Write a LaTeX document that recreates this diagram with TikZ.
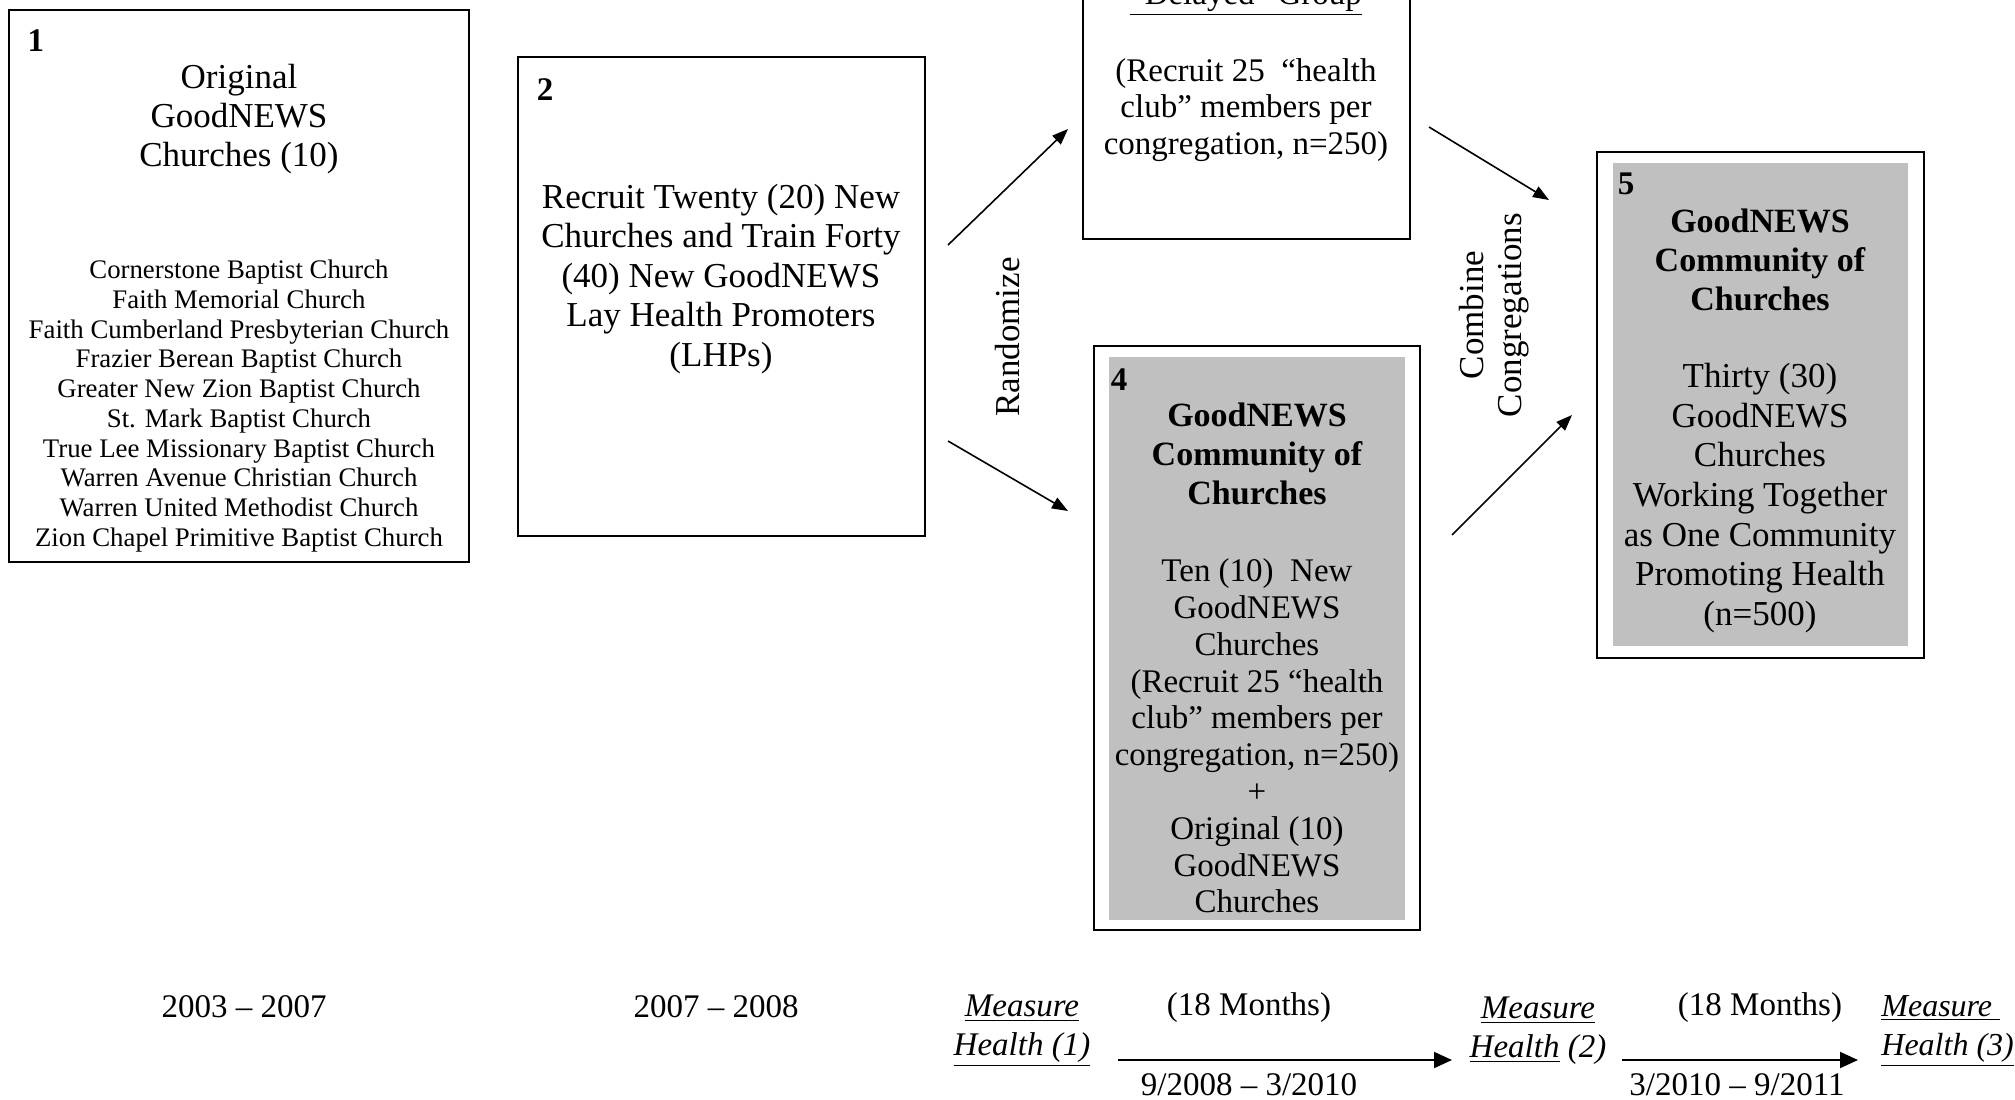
\documentclass[tikz,border=0pt]{standalone}
\usepackage{fontspec}
\setmainfont{Liberation Serif}
\usetikzlibrary{arrows.meta,fit}
\definecolor{boxgrey}{RGB}{192,192,192}
\begin{document}
\begin{tikzpicture}[x=0.5pt,y=-0.5pt,
  box/.style={draw=black,line width=1pt,inner sep=0pt,outer sep=0pt},
  dbox/.style={draw=black,line width=1.3pt,inner sep=0pt,outer sep=0pt},
  gbox/.style={fill=boxgrey,draw=none,inner sep=0pt,outer sep=0pt},
  big/.style={align=center,inner sep=0pt,font=\fontsize{17.5}{19.75}\selectfont},
  mid/.style={align=center,inner sep=0pt,font=\fontsize{16.5}{18.2}\selectfont},
  bhead/.style={align=center,inner sep=0pt,font=\fontsize{17}{19.3}\selectfont\bfseries},
  small/.style={align=center,inner sep=0pt,font=\fontsize{13.4}{14.85}\selectfont},
  num/.style={inner sep=0pt,anchor=center,font=\fontsize{16.5}{18}\selectfont\bfseries},
  tl/.style={align=center,inner sep=0pt,font=\fontsize{16.5}{19.5}\selectfont},
  tli/.style={align=center,inner sep=0pt,font=\fontsize{16.5}{19.5}\selectfont\itshape},
  arr/.style={line width=0.8pt,-{Triangle[length=8pt,width=6pt]}},
  tarr/.style={line width=1pt,-{Triangle[length=9pt,width=8pt]}}
]
\useasboundingbox (0,0) rectangle (2015,1099);
\clip (0,0) rectangle (2015,1099);

% Box 1
\node[box,fit={(9,10) (469,562)}] (b1) {};
\node[num] (n1) at (36,41) {1};
\node[big,font=\fontsize{17.5}{19.5}\selectfont] (t1) at (239,119) {Original\\GoodNEWS\\Churches (10)};
\node[small] (l1) at (239,406) {Cornerstone Baptist Church\\Faith Memorial Church\\Faith Cumberland Presbyterian Church\\Frazier Berean Baptist Church\\Greater New Zion Baptist Church\\St. Mark Baptist Church\\True Lee Missionary Baptist Church\\Warren Avenue Christian Church\\Warren United Methodist Church\\Zion Chapel Primitive Baptist Church};

% Box 2
\node[box,fit={(518,57) (925,536)}] (b2) {};
\node[num] (n2) at (545,90) {2};
\node[big] (t2) at (721,279) {Recruit Twenty (20) New\\Churches and Train Forty\\(40) New GoodNEWS\\Lay Health Promoters\\(LHPs)};

% Box 3
\node[box,fit={(1083,-80) (1410,239)}] (b3) {};
\node[mid] (h3) at (1246,-1) {\underline{``Delayed'' Group}};
\node[mid] (t3) at (1246,110) {(Recruit 25~ ``health\\club'' members per\\congregation, n=250)};

% Box 4
\node[dbox,fit={(1094,346) (1420,930)}] (b4) {};
\node[gbox,fit={(1109,357) (1405,920)}] (g4) {};
\node[num] (n4) at (1119,380) {4};
\node[bhead] (h4) at (1257,454) {GoodNEWS\\Community of\\Churches};
\node[mid,font=\fontsize{16.5}{18.4}\selectfont] (t4) at (1257,736) {Ten (10)~ New\\GoodNEWS\\Churches\\(Recruit 25 ``health\\club'' members per\\congregation, n=250)\\+\\Original (10)\\GoodNEWS\\Churches};

% Box 5
\node[dbox,fit={(1597,152) (1924,658)}] (b5) {};
\node[gbox,fit={(1613,163) (1908,646)}] (g5) {};
\node[num] (n5) at (1626,184) {5};
\node[bhead] (h5) at (1760,260) {GoodNEWS\\Community of\\Churches};
\node[big,font=\fontsize{17.5}{19.85}\selectfont] (t5) at (1760,498) {Thirty (30)\\GoodNEWS\\Churches\\Working Together\\as One Community\\Promoting Health\\(n=500)};

% Arrows
\coordinate (a1s) at (948,245); \coordinate (a1e) at (1068,129);
\coordinate (a2s) at (948,441); \coordinate (a2e) at (1068,511);
\coordinate (a3s) at (1429,127); \coordinate (a3e) at (1549,200);
\coordinate (a4s) at (1452,535); \coordinate (a4e) at (1572,415);
\draw[arr] (a1s) -- (a1e);
\draw[arr] (a2s) -- (a2e);
\draw[arr] (a3s) -- (a3e);
\draw[arr] (a4s) -- (a4e);

\node[big,rotate=90] (rand) at (1008,337) {Randomize};
\node[big,rotate=90,font=\fontsize{17.5}{19.25}\selectfont] (comb) at (1494,315) {Combine\\Congregations};

% Timeline
\node[tl] (y1) at (244,1007) {2003 -- 2007};
\node[tl] (y2) at (716,1007) {2007 -- 2008};
\node[tli] (m1) at (1022,1031) {\underline{Measure}\\\underline{Health (1)}};
\node[tl] (mo1) at (1249,1008) {(18 Months)};
\node[tl] (d1) at (1249,1085) {9/2008 -- 3/2010};
\node[tli] (m2) at (1538,1031) {\underline{Measure}\\\underline{Health} (2)};
\node[tl] (mo2) at (1760,1008) {(18 Months)};
\node[tl] (d2) at (1737,1085) {3/2010 -- 9/2011};
\node[tli,align=left,anchor=west,font=\fontsize{16}{19.5}\selectfont\itshape] (m3) at (1881,1031) {\underline{Measure\ }\\\underline{Health (3)}};

\coordinate (t1s) at (1118,1060); \coordinate (t1e) at (1452,1060);
\coordinate (t2s) at (1622,1060); \coordinate (t2e) at (1858,1060);
\draw[tarr] (t1s) -- (t1e);
\draw[tarr] (t2s) -- (t2e);
\end{tikzpicture}
\end{document}
